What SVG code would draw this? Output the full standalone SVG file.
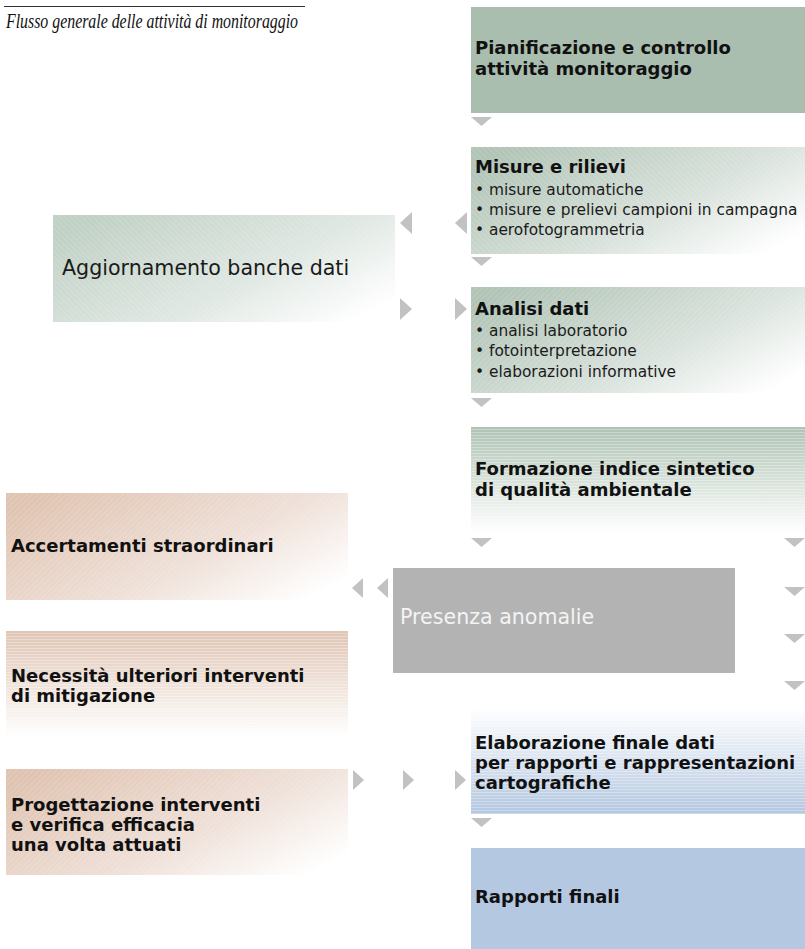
<svg xmlns="http://www.w3.org/2000/svg" width="805" height="949" viewBox="0 0 805 949">
  <style>
    .h { font-family: "DejaVu Sans", Verdana, sans-serif; font-weight: bold; font-size: 18px; fill: #111; }
    .b { font-family: "DejaVu Sans", Verdana, sans-serif; font-size: 15.4px; fill: #1a1a1a; }
    .n { font-family: "DejaVu Sans", Verdana, sans-serif; font-size: 20.6px; fill: #1a1a1a; }
    .ttl { font-family: "Liberation Serif", "Times New Roman", serif; font-style: italic; font-size: 22px; fill: #111; }
    .tri { fill: #c2c2c2; }
  </style>
  <defs>
    <linearGradient id="gGreenDiag" x1="0" y1="0.2" x2="1" y2="0.8">
      <stop offset="0" stop-color="#b1c4b6"/>
      <stop offset="0.6" stop-color="#d9e2dc"/>
      <stop offset="1" stop-color="#ffffff"/>
    </linearGradient>
    <linearGradient id="gGreenLight" x1="0" y1="0.2" x2="1" y2="0.8">
      <stop offset="0" stop-color="#c0d0c4"/>
      <stop offset="0.6" stop-color="#e0e8e3"/>
      <stop offset="1" stop-color="#ffffff"/>
    </linearGradient>
    <linearGradient id="gGreenV" x1="0" y1="0" x2="0" y2="1">
      <stop offset="0" stop-color="#afc3b4"/>
      <stop offset="1" stop-color="#ffffff"/>
    </linearGradient>
    <linearGradient id="gPinkDiag" x1="0" y1="0.2" x2="1" y2="0.8">
      <stop offset="0" stop-color="#e0c4b2"/>
      <stop offset="0.6" stop-color="#efe1d9"/>
      <stop offset="1" stop-color="#ffffff"/>
    </linearGradient>
    <linearGradient id="gPinkV" x1="0" y1="0" x2="0" y2="1">
      <stop offset="0" stop-color="#e0c5b4"/>
      <stop offset="1" stop-color="#ffffff"/>
    </linearGradient>
    <linearGradient id="gBlueV" x1="0" y1="0" x2="0" y2="1">
      <stop offset="0" stop-color="#ffffff"/>
      <stop offset="1" stop-color="#b3c7e0"/>
    </linearGradient>
    <!-- fine hatching overlays -->
    <pattern id="hatchA" width="4" height="4" patternUnits="userSpaceOnUse" patternTransform="rotate(-45)">
      <line x1="0" y1="0" x2="0" y2="4" stroke="#ffffff" stroke-opacity="0.28" stroke-width="1"/>
    </pattern>
    <pattern id="hatchB" width="4" height="4" patternUnits="userSpaceOnUse" patternTransform="rotate(45)">
      <line x1="0" y1="0" x2="0" y2="4" stroke="#ffffff" stroke-opacity="0.28" stroke-width="1"/>
    </pattern>
    <pattern id="stripes" width="4" height="3" patternUnits="userSpaceOnUse">
      <line x1="0" y1="0.5" x2="4" y2="0.5" stroke="#ffffff" stroke-opacity="0.3" stroke-width="1"/>
    </pattern>
  </defs>

  <!-- heading -->
  <g id="heading">
    <line x1="4" y1="6.5" x2="305" y2="6.5" stroke="#333" stroke-width="1"/>
    <text class="ttl" x="6" y="28" textLength="292" lengthAdjust="spacingAndGlyphs">Flusso generale delle attività di monitoraggio</text>
  </g>

  <!-- right column -->
  <g id="pianificazione">
    <rect x="471" y="7" width="334" height="106" fill="#a9beaf"/>
    <text class="h" x="475" y="54">Pianificazione e controllo</text>
    <text class="h" x="475" y="75">attività monitoraggio</text>
  </g>

  <g id="misure">
    <rect x="471" y="147" width="334" height="107" fill="url(#gGreenDiag)"/>
    <rect x="471" y="147" width="334" height="107" fill="url(#hatchA)"/>
    <text class="h" x="475" y="173">Misure e rilievi</text>
    <text class="b" x="475" y="195">• misure automatiche</text>
    <text class="b" x="475" y="215">• misure e prelievi campioni in campagna</text>
    <text class="b" x="475" y="235">• aerofotogrammetria</text>
  </g>

  <g id="analisi">
    <rect x="471" y="287" width="334" height="106" fill="url(#gGreenDiag)"/>
    <rect x="471" y="287" width="334" height="106" fill="url(#hatchB)"/>
    <text class="h" x="475" y="315">Analisi dati</text>
    <text class="b" x="475" y="336">• analisi laboratorio</text>
    <text class="b" x="475" y="356">• fotointerpretazione</text>
    <text class="b" x="475" y="377">• elaborazioni informative</text>
  </g>

  <g id="formazione">
    <rect x="471" y="427" width="334" height="106" fill="url(#gGreenV)"/>
    <rect x="471" y="427" width="334" height="106" fill="url(#stripes)"/>
    <text class="h" x="475" y="475">Formazione indice sintetico</text>
    <text class="h" x="475" y="496">di qualità ambientale</text>
  </g>

  <g id="presenza">
    <rect x="393" y="568" width="342" height="105" fill="#b3b3b3"/>
    <text class="n" x="400" y="624" style="fill:#f4f4f4">Presenza anomalie</text>
  </g>

  <g id="elaborazione">
    <rect x="471" y="708" width="334" height="106" fill="url(#gBlueV)"/>
    <rect x="471" y="708" width="334" height="106" fill="url(#stripes)"/>
    <text class="h" x="475" y="749">Elaborazione finale dati</text>
    <text class="h" x="475" y="769">per rapporti e rappresentazioni</text>
    <text class="h" x="475" y="789">cartografiche</text>
  </g>

  <g id="rapporti">
    <rect x="471" y="848" width="334" height="101" fill="#b5c8e1"/>
    <text class="h" x="475" y="903">Rapporti finali</text>
  </g>

  <!-- left column -->
  <g id="aggiornamento">
    <rect x="53" y="215" width="342" height="107" fill="url(#gGreenLight)"/>
    <rect x="53" y="215" width="342" height="107" fill="url(#hatchA)"/>
    <text class="n" x="62" y="275">Aggiornamento banche dati</text>
  </g>

  <g id="accertamenti">
    <rect x="6" y="493" width="342" height="107" fill="url(#gPinkDiag)"/>
    <rect x="6" y="493" width="342" height="107" fill="url(#hatchB)"/>
    <text class="h" x="11" y="552">Accertamenti straordinari</text>
  </g>

  <g id="necessita">
    <rect x="6" y="631" width="342" height="106" fill="url(#gPinkV)"/>
    <rect x="6" y="631" width="342" height="106" fill="url(#stripes)"/>
    <text class="h" x="11" y="682">Necessità ulteriori interventi</text>
    <text class="h" x="11" y="702">di mitigazione</text>
  </g>

  <g id="progettazione">
    <rect x="6" y="769" width="342" height="106" fill="url(#gPinkDiag)"/>
    <rect x="6" y="769" width="342" height="106" fill="url(#hatchB)"/>
    <text class="h" x="11" y="811">Progettazione interventi</text>
    <text class="h" x="11" y="831">e verifica efficacia</text>
    <text class="h" x="11" y="851">una volta attuati</text>
  </g>

  <!-- flow markers -->
  <g id="connectors">
    <!-- downward, main column -->
    <polygon class="tri" points="471,117 492,117 481.5,126"/>
    <polygon class="tri" points="471,257 492,257 481.5,266"/>
    <polygon class="tri" points="471,398 492,398 481.5,407"/>
    <polygon class="tri" points="471,538 492,538 481.5,547"/>
    <polygon class="tri" points="471,818 492,818 481.5,827"/>
    <!-- downward, right edge -->
    <polygon class="tri" points="784,538 805,538 794.5,547"/>
    <polygon class="tri" points="784,587 805,587 794.5,596"/>
    <polygon class="tri" points="784,634 805,634 794.5,643"/>
    <polygon class="tri" points="784,681 805,681 794.5,690"/>
    <!-- leftward, towards data update -->
    <polygon class="tri" points="400,223 412,212 412,234"/>
    <polygon class="tri" points="455,223 467,212 467,234"/>
    <!-- rightward, back to analysis -->
    <polygon class="tri" points="400,298 412,309 400,320"/>
    <polygon class="tri" points="455,298 467,309 455,320"/>
    <!-- leftward, anomalies -->
    <polygon class="tri" points="352,588 363,578 363,598"/>
    <polygon class="tri" points="377,588 388,578 388,598"/>
    <!-- rightward, towards final processing -->
    <polygon class="tri" points="353,770 364,780 353,790"/>
    <polygon class="tri" points="403,770 414,780 403,790"/>
    <polygon class="tri" points="455,770 466,780 455,790"/>
  </g>
</svg>
